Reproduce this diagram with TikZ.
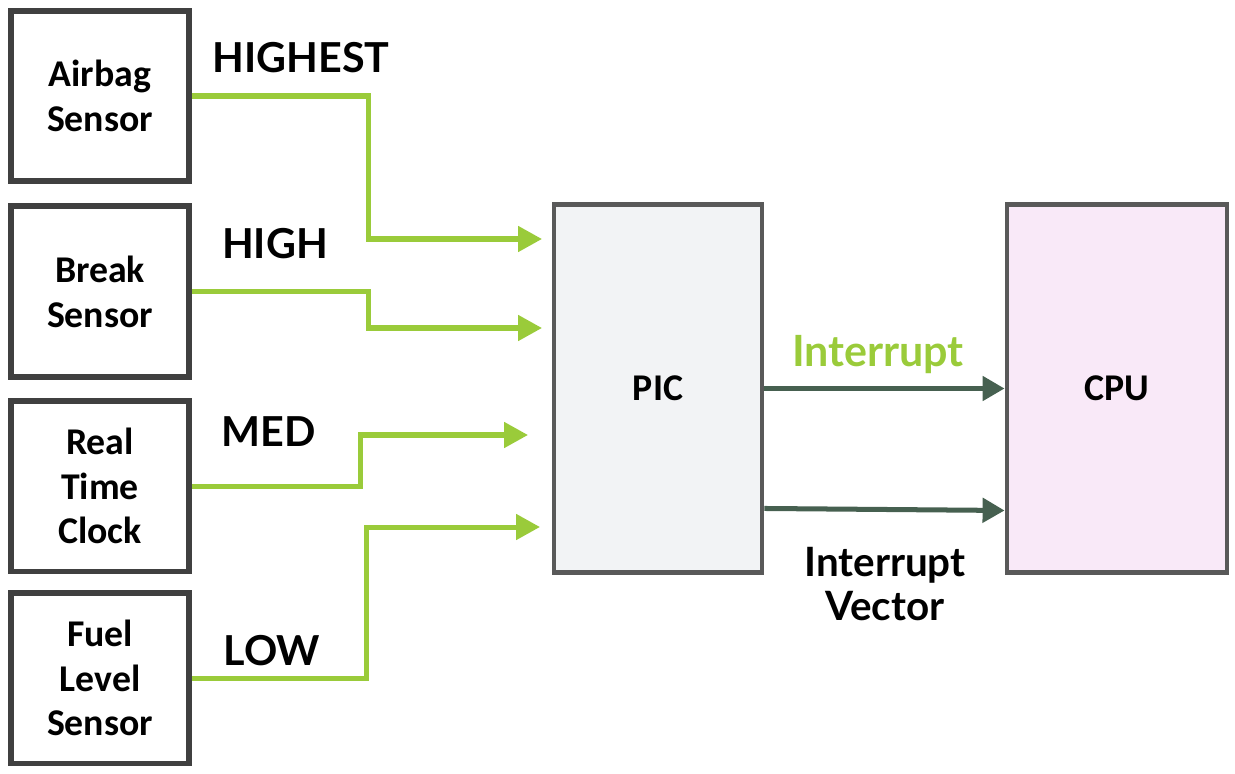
\documentclass[tikz,border=0pt]{standalone}
\usepackage{fontspec}
\setmainfont{Carlito}
\newfontfamily\lblfont{Lato}
\usetikzlibrary{arrows.meta}
\definecolor{wiregreen}{RGB}{154,203,58}
\definecolor{busgreen}{RGB}{70,96,80}
\definecolor{sensorline}{RGB}{64,64,64}
\definecolor{chipline}{RGB}{89,89,89}
\definecolor{picfill}{RGB}{242,243,245}
\definecolor{cpufill}{RGB}{249,233,248}
\tikzset{
  sensor/.style={draw=sensorline, line width=3.4pt, minimum width=3.58cm,
    minimum height=3.42cm, align=center, font=\bfseries\fontsize{21.5}{25.5}\selectfont},
  chip/.style={draw=chipline, line width=2.8pt, minimum height=7.36cm,
    font=\bfseries\fontsize{21.5}{25.5}\selectfont},
  wire/.style={draw=wiregreen, line width=2.85pt, -{Triangle[length=0.48cm,width=0.5cm]}},
  bus/.style={draw=busgreen, line width=2.85pt, -{Triangle[length=0.44cm,width=0.48cm]}},
  level/.style={anchor=base, font=\lblfont\bfseries\fontsize{23.5}{28}\selectfont},
}

\begin{document}
\begin{tikzpicture}[x=0.02cm, y=-0.02cm]
    \useasboundingbox (0,0) rectangle (1235,774);

    % Interrupt sources
    \node[sensor] (airbag) at (100,96) {Airbag\\Sensor};
    \node[sensor] (break) at (100,291.5) {Break\\Sensor};
    \node[sensor] (rtc) at (100,486) {Real\\Time\\Clock};
    \node[sensor] (fuel) at (100,678) {Fuel\\Level\\Sensor};

    % Controller and processor
    \node[chip, fill=picfill, minimum width=4.16cm] (pic) at (658,388.5) {PIC};
    \node[chip, fill=cpufill, minimum width=4.4cm] (cpu) at (1117,388.5) {CPU};

    % Priority lines into the PIC
    \coordinate (in1) at (542,239);
    \coordinate (in2) at (542,328);
    \coordinate (in3) at (528,435);
    \coordinate (in4) at (540,527);
    \draw[wire] (airbag.east) -- ++(176,0) |- (in1);
    \draw[wire] (break.east) -- ++(176,0) |- (in2);
    \draw[wire] (rtc.east) -- ++(168,0) |- (in3);
    \draw[wire] (fuel.east) -- ++(174,0) |- (in4);

    % Priority labels
    \node[level] (highest) at (301,72) {HIGHEST};
    \node[level] (high) at (275,258) {HIGH};
    \node[level] (med) at (269,446) {MED};
    \node[level] (low) at (272,665) {LOW};

    % PIC to CPU
    \draw[bus] (pic.east) -- (cpu.west);
    \draw[bus] ([yshift=-2.4cm]pic.east) -- ([yshift=-2.44cm]cpu.west);
    \node[level, text=wiregreen, font=\lblfont\bfseries\fontsize{24.5}{28}\selectfont]
      (intr) at (878,366) {Interrupt};
    \node[align=center, font=\lblfont\bfseries\fontsize{23}{25}\selectfont]
      (vector) at (885,584) {Interrupt\\Vector};
\end{tikzpicture}
\end{document}
